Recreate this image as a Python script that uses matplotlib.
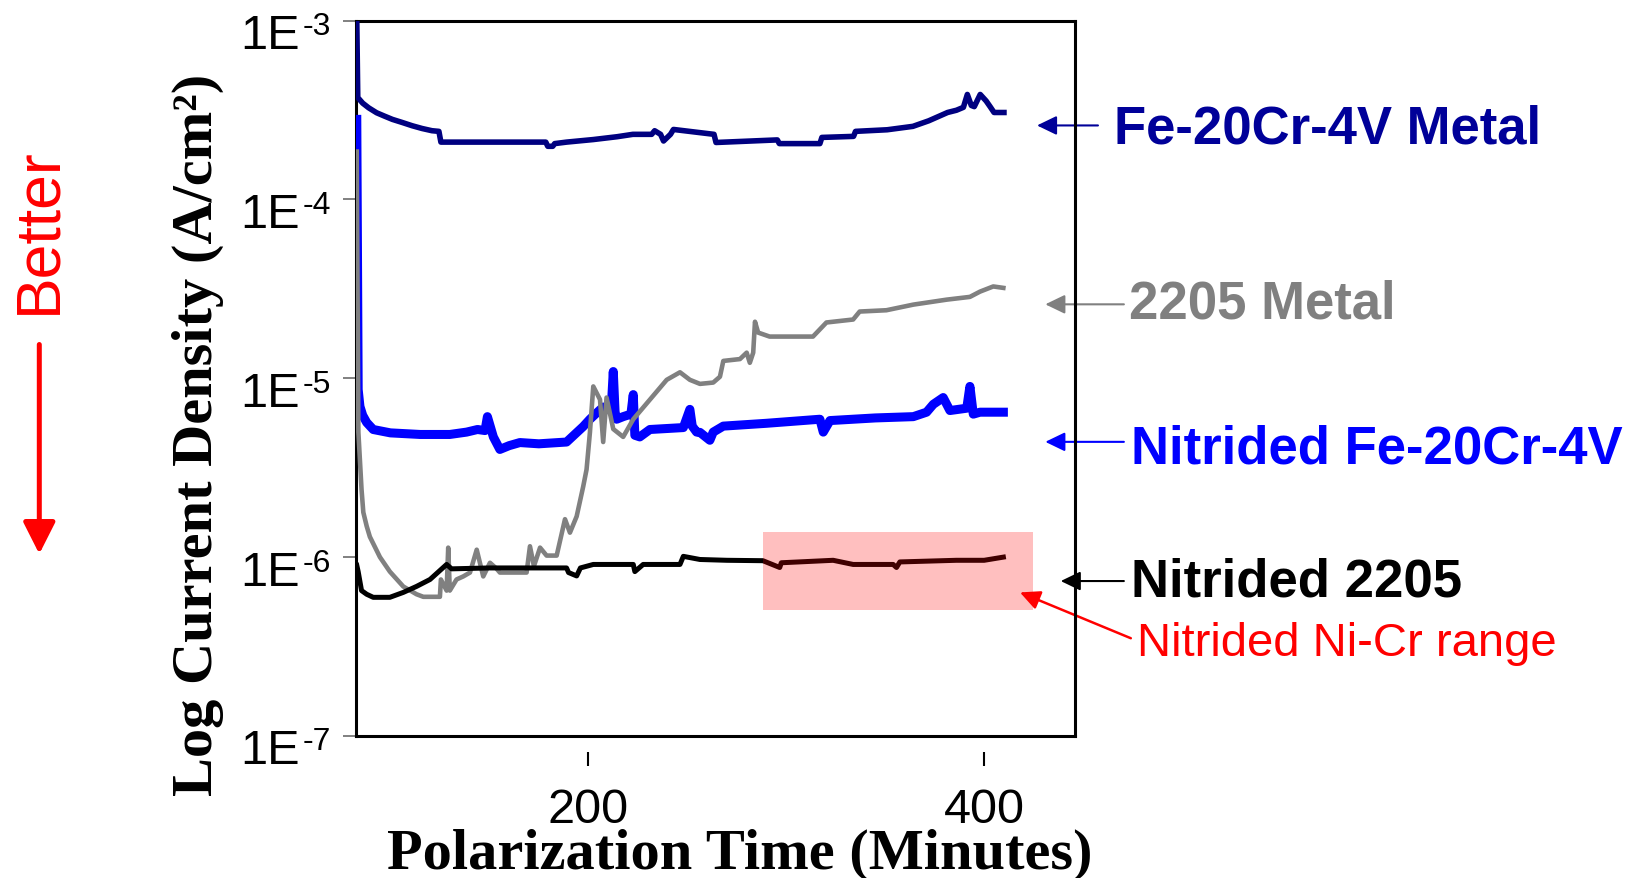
import matplotlib
matplotlib.use("Agg")
import numpy as np
import matplotlib.pyplot as plt
from matplotlib.patches import Rectangle
from matplotlib.ticker import FixedLocator, NullLocator
from matplotlib.transforms import ScaledTranslation

plt.rcParams['font.family'] = ['Liberation Sans', 'DejaVu Sans']

# ---- potentiostatic hold data: time (min) vs current density (A/cm^2) ----
fe_metal_t = [83.0, 83.5, 86, 89, 93, 97, 101, 106, 111, 116, 121, 124.5, 125.5,
              150, 178.5, 179.5, 182, 183, 189, 202.5, 214.5, 222.5, 232, 233.5,
              236.5, 238, 241.5, 243, 263.5, 264.5, 295.5, 296.5, 317, 318, 334,
              335, 351, 364, 372, 381.5, 386, 389.5, 391.5, 393.5, 395, 398, 401,
              403, 405, 410]
fe_metal_j = [1.0e-3, 3.71e-4, 3.45e-4, 3.25e-4, 3.05e-4, 2.92e-4, 2.80e-4, 2.69e-4,
              2.58e-4, 2.49e-4, 2.42e-4, 2.40e-4, 2.09e-4, 2.09e-4, 2.09e-4, 1.98e-4,
              1.98e-4, 2.05e-4, 2.09e-4, 2.16e-4, 2.24e-4, 2.31e-4, 2.31e-4, 2.42e-4,
              2.31e-4, 2.12e-4, 2.31e-4, 2.46e-4, 2.31e-4, 2.08e-4, 2.15e-4, 2.05e-4,
              2.05e-4, 2.22e-4, 2.25e-4, 2.40e-4, 2.45e-4, 2.56e-4, 2.75e-4, 3.06e-4,
              3.15e-4, 3.27e-4, 3.86e-4, 3.35e-4, 3.30e-4, 3.86e-4, 3.55e-4, 3.30e-4,
              3.06e-4, 3.06e-4]

fe_nitrided_t = [83.0, 83.7, 84.6, 86, 88, 91.3, 100, 115, 130, 138.5, 144, 147.8,
                 149, 152, 155.3, 160, 165.4, 175, 189, 197.4, 200.8, 204.2, 207.5,
                 211.5, 212.6, 213.5, 214.3, 217.6, 221.5, 222.7, 223.5, 226, 231.1,
                 248, 251.3, 252.5, 254.7, 256.4, 261.4, 263.1, 268.2, 290, 317,
                 318.7, 322.1, 345, 364.2, 370.9, 374.3, 379.3, 382.7, 391.2, 392.8,
                 394.5, 397.9, 409.7]
fe_nitrided_j = [2.8e-4, 8.65e-6, 6.95e-6, 6.2e-6, 5.66e-6, 5.17e-6, 4.95e-6, 4.85e-6,
                 4.85e-6, 5.0e-6, 5.17e-6, 5.1e-6, 6.1e-6, 4.7e-6, 4.0e-6, 4.2e-6,
                 4.37e-6, 4.3e-6, 4.4e-6, 5.37e-6, 5.9e-6, 6.4e-6, 6.9e-6, 6.6e-6,
                 1.09e-5, 6.5e-6, 5.9e-6, 6.1e-6, 6.3e-6, 8.1e-6, 4.8e-6, 4.7e-6,
                 5.17e-6, 5.3e-6, 6.7e-6, 5.4e-6, 5.0e-6, 4.98e-6, 4.5e-6, 5.0e-6,
                 5.4e-6, 5.6e-6, 5.9e-6, 5.0e-6, 5.8e-6, 6.0e-6, 6.1e-6, 6.46e-6,
                 7.15e-6, 7.8e-6, 6.6e-6, 6.8e-6, 9.0e-6, 6.3e-6, 6.46e-6, 6.46e-6]

ss2205_metal_t = [83.0, 83.8, 85.4, 86.3, 88.0, 89.6, 94.7, 99.7, 106.5, 113.2, 116.6,
                  125.0, 125.5, 128.4, 129.2, 130.0, 133.4, 136.8, 140.2, 143.6, 146.9,
                  150.3, 153.7, 155.3, 168.8, 170.5, 172.5, 175.6, 178.9, 184.0, 188.2,
                  190.7, 194.1, 197.4, 199.1, 200.8, 202.5, 205.9, 207.5, 209.2, 212.6,
                  217.6, 222.7, 239.6, 246.3, 251.3, 256.4, 263.1, 266.5, 268.2, 276.6,
                  280.0, 281.6, 283.3, 284.2, 285.8, 291.6, 313.5, 320.3, 333.8, 337.1,
                  350.6, 364.2, 381.0, 392.8, 397.9, 404.6, 409.7]
ss2205_metal_j = [1.85e-4, 5.0e-6, 2.39e-6, 1.78e-6, 1.49e-6, 1.3e-6, 1.0e-6, 8.3e-7,
                  6.85e-7, 6.2e-7, 6.0e-7, 6.0e-7, 7.5e-7, 6.5e-7, 1.13e-6, 6.5e-7,
                  7.5e-7, 7.8e-7, 8.2e-7, 1.1e-6, 7.8e-7, 9.3e-7, 8.6e-7, 8.2e-7,
                  8.2e-7, 1.15e-6, 8.9e-7, 1.13e-6, 1.02e-6, 1.02e-6, 1.63e-6, 1.37e-6,
                  1.69e-6, 2.48e-6, 3.09e-6, 4.98e-6, 9.0e-6, 7.6e-6, 4.4e-6, 7.8e-6,
                  5.2e-6, 4.7e-6, 5.9e-6, 9.8e-6, 1.08e-5, 9.8e-6, 9.3e-6, 9.46e-6,
                  1.02e-5, 1.25e-5, 1.28e-5, 1.39e-5, 1.22e-5, 1.39e-5, 2.07e-5, 1.80e-5,
                  1.71e-5, 1.71e-5, 2.05e-5, 2.13e-5, 2.36e-5, 2.4e-5, 2.58e-5, 2.75e-5,
                  2.85e-5, 3.05e-5, 3.26e-5, 3.2e-5]

ss2205_nitrided_t = [83.0, 83.7, 85.4, 88, 91.3, 99.7, 106.5, 113.2, 120.0, 128.4, 130.9,
                     150, 170, 189, 190, 194.1, 196, 202.5, 222.7, 223.5, 227.7, 246.3,
                     248, 256.4, 270, 288.2, 296.7, 297.5, 323.7, 333.8, 354, 355.7,
                     357.4, 386, 400, 409.7]
ss2205_nitrided_j = [9.0e-7, 8.3e-7, 6.5e-7, 6.2e-7, 5.96e-7, 5.96e-7, 6.35e-7, 6.86e-7,
                     7.5e-7, 9.1e-7, 8.6e-7, 8.7e-7, 8.7e-7, 8.7e-7, 8.2e-7, 7.85e-7,
                     8.7e-7, 9.1e-7, 9.1e-7, 8.3e-7, 9.1e-7, 9.1e-7, 1.01e-6, 9.7e-7,
                     9.6e-7, 9.55e-7, 8.75e-7, 9.3e-7, 9.6e-7, 9.1e-7, 9.1e-7, 8.75e-7,
                     9.4e-7, 9.6e-7, 9.6e-7, 1.0e-6]

# band of values reported for nitrided Ni-Cr alloys
nicr_range_t = [288.2, 424.7]
nicr_range_j = [5.06e-7, 1.38e-6]

x_ticks = [200, 400]
x_tick_labels = ['200', '400']
y_ticks = [1e-7, 1e-6, 1e-5, 1e-4, 1e-3]

series_labels = ['Fe-20Cr-4V Metal', '2205 Metal', 'Nitrided Fe-20Cr-4V', 'Nitrided 2205']
range_label = 'Nitrided Ni-Cr range'

# ---- figure ----
fig = plt.figure(figsize=(16.33, 8.79), dpi=100)
ax = fig.add_axes([0.2180, 0.16155, 0.4403, 0.81399])
ax.set_yscale('log')
ax.set_xlim(82.6, 445.9)
ax.set_ylim(1e-7, 1e-3)

ax.plot(fe_metal_t, fe_metal_j, color='#000080', lw=4.0, zorder=3)
ax.plot(fe_nitrided_t, fe_nitrided_j, color='#0000FF', lw=6.5, zorder=3)
ax.plot(ss2205_metal_t, ss2205_metal_j, color='#808080', lw=3.3, zorder=3)
ax.plot(ss2205_nitrided_t, ss2205_nitrided_j, color='black', lw=3.6, zorder=3)

ax.add_patch(Rectangle((nicr_range_t[0], nicr_range_j[0]),
                       nicr_range_t[1] - nicr_range_t[0],
                       nicr_range_j[1] - nicr_range_j[0],
                       facecolor='red', alpha=0.25, edgecolor='none', zorder=4))

# frame: bottom axis line stays on the box, its ticks hang below it
for side in ['left', 'right', 'top']:
    ax.spines[side].set_linewidth(2.2)
ax.spines['bottom'].set_position(('outward', 11.5))
ax.spines['bottom'].set_visible(False)
ax.axhline(1e-7, color='black', lw=2.2, zorder=2.6, clip_on=False)

ax.xaxis.set_major_locator(FixedLocator(x_ticks))
ax.set_xticklabels(x_tick_labels)
ax.tick_params(axis='x', direction='out', length=10, width=1.5, color='black',
               labelsize=35, pad=15)

ax.yaxis.set_major_locator(FixedLocator(y_ticks))
ax.yaxis.set_minor_locator(NullLocator())
ax.tick_params(axis='y', direction='out', length=9.4, width=1.4, color='#808080',
               labelleft=False)

# y tick labels in "1E" + raised exponent form
ytrans = ax.get_yaxis_transform()
base_off = ScaledTranslation(-56 / 100, -27.5 / 100, fig.dpi_scale_trans)
exp_off = ScaledTranslation(-53 / 100, -13.5 / 100, fig.dpi_scale_trans)
for v in y_ticks:
    e = int(round(-np.log10(v)))
    ax.text(0, v, '1E', transform=ytrans + base_off, ha='right', va='baseline',
            fontsize=35, clip_on=False)
    ax.text(0, v, f'-{e}', transform=ytrans + exp_off, ha='left', va='baseline',
            fontsize=23, clip_on=False)

# ---- series labels with pointers ----
def pointer(tip, tail, color, lw=1.5, hl=0.6, hw=0.29):
    ax.annotate('', xy=tip, xytext=tail, xycoords='data', textcoords='data',
                arrowprops=dict(arrowstyle=f'-|>,head_length={hl},head_width={hw}',
                                color=color, lw=lw, shrinkA=0, shrinkB=0,
                                mutation_scale=20),
                annotation_clip=False, zorder=2)

pointer((426.7, 2.59e-4), (457.5, 2.59e-4), '#000099')
pointer((430.9, 2.59e-5), (470.6, 2.59e-5), '#808080')
pointer((430.9, 4.41e-6), (470.6, 4.41e-6), '#0000FF')
pointer((438.7, 7.35e-7), (470.6, 7.35e-7), 'black')
pointer((418.1, 6.35e-7), (474.1, 3.52e-7), '#FF0000', lw=1.8)

label_kw = dict(fontsize=38, fontweight='bold', ha='left', va='baseline', clip_on=False)
ax.text(465.6, 2.09e-4, series_labels[0], color='#000099', **label_kw)
ax.text(473.2, 2.19e-5, series_labels[1], color='#808080', **label_kw)
ax.text(474.1, 3.40e-6, series_labels[2], color='#0000FF', **label_kw)
ax.text(474.1, 6.14e-7, series_labels[3], color='black', **label_kw)
ax.text(477.2, 2.84e-7, range_label, color='#FF0000', fontsize=34,
        ha='left', va='baseline', clip_on=False)

# ---- axis titles ----
fig.text(198 / 1633, 1 - 435 / 879, 'Log Current Density (A/cm\u00b2)',
         rotation=90, family='Liberation Serif', weight='bold', fontsize=42,
         ha='center', va='center')
fig.text(739.5 / 1633, 1 - 869 / 879, 'Polarization Time (Minutes)',
         family='Liberation Serif', weight='bold', fontsize=42,
         ha='center', va='baseline')

# ---- "Better" direction cue ----
fig.text(38.5 / 1633, 1 - 230.5 / 879, 'Better', rotation=90, color='#FF0000',
         fontsize=45, ha='center', va='center')
ax.annotate('', xy=(39.3 / 1633, 1 - 555 / 879), xycoords='figure fraction',
            xytext=(39.3 / 1633, 1 - 345.5 / 879), textcoords='figure fraction',
            arrowprops=dict(arrowstyle='-|>,head_length=0.97,head_width=0.49',
                            color='#FF0000', lw=3.6, shrinkA=0, shrinkB=0,
                            mutation_scale=20),
            annotation_clip=False)

fig.savefig('out.png', dpi=100)
